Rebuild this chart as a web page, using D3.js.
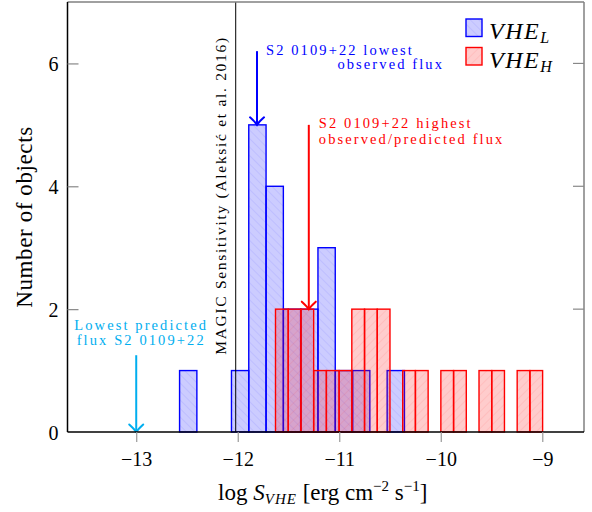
<!DOCTYPE html>
<html>
<head>
<meta charset="utf-8">
<script src="https://cdn.jsdelivr.net/npm/d3@7/dist/d3.min.js"></script>
<style>
  html, body { margin: 0; padding: 0; background: #fff; }
  svg { display: block; }
  text { font-family: "Liberation Serif", "Times New Roman", serif; }
</style>
</head>
<body>
<svg id="chart" width="592" height="512"></svg>
<script>
// Histogram of log VHE flux for the two source samples
const xTicks = [-13, -12, -11, -10, -9];
const yTicks = [0, 2, 4, 6];

// VHE_L sample: equal-width bins starting at blueStart
const blueStart = -12.573;
const blueWidth = 0.1704;
const blueCounts = [1, 0, 0, 1, 5, 4, 2, 2, 3, 1, 1, 0, 1];

// VHE_H sample
const redStart = -11.628;
const redWidth = 0.1253;
const redCounts = [2, 2, 2, 1, 1, 1, 2, 2, 2, 0, 1, 1, 0, 1, 1, 0, 1, 1, 0, 1, 1];

// MAGIC sensitivity limit
const magicLimit = -12.02;

// Arrow markers: x position, arrow start (count units), arrow tip (count units)
const markerX = [-11.81, -11.30, -13.0];
const markerFrom = [6.2, 5.0, 1.25];
const markerTo = [5, 2, 0];
const markerColor = ["#0000ff", "#ff0000", "#00aeef"];

const svg = d3.select("#chart");
const margin = { left: 67.5, right: 584, top: 2, bottom: 432 };

const x = d3.scaleLinear().domain([-13.677, -8.589]).range([margin.left, margin.right]);
const y = d3.scaleLinear().domain([0, 7]).range([margin.bottom, margin.top]);

// hatch patterns
const defs = svg.append("defs");
function hatch(id, color, angle) {
  const p = defs.append("pattern")
    .attr("id", id)
    .attr("patternUnits", "userSpaceOnUse")
    .attr("width", 6).attr("height", 6)
    .attr("patternTransform", `rotate(${angle})`);
  p.append("rect").attr("width", 6).attr("height", 6).attr("fill", color).attr("fill-opacity", 0.2);
  p.append("line").attr("x1", 0).attr("y1", 0).attr("x2", 0).attr("y2", 6)
    .attr("stroke", color).attr("stroke-opacity", 0.14).attr("stroke-width", 1);
}
hatch("hatchBlue", "#0000ff", -45);
hatch("hatchRed", "#ff0000", 45);

function bins(start, width, counts) {
  return counts.map((c, i) => ({ x0: start + i * width, x1: start + (i + 1) * width, n: c }))
    .filter(d => d.n > 0);
}

function drawBars(data, fill, stroke) {
  svg.append("g").selectAll("rect").data(data).join("rect")
    .attr("x", d => x(d.x0))
    .attr("y", d => y(d.n))
    .attr("width", d => x(d.x1) - x(d.x0))
    .attr("height", d => y(0) - y(d.n))
    .attr("fill", fill)
    .attr("stroke", stroke)
    .attr("stroke-width", 1.4);
}
drawBars(bins(blueStart, blueWidth, blueCounts), "url(#hatchBlue)", "#0000ff");
drawBars(bins(redStart, redWidth, redCounts), "url(#hatchRed)", "#ff0000");

// MAGIC sensitivity line and label
svg.append("line")
  .attr("x1", x(magicLimit)).attr("x2", x(magicLimit))
  .attr("y1", y(0)).attr("y2", y(7))
  .attr("stroke", "#000").attr("stroke-width", 1);
svg.append("text")
  .attr("transform", `translate(${x(magicLimit) - 10},195.5) rotate(-90)`)
  .attr("text-anchor", "middle")
  .attr("font-size", 15.5)
  .attr("letter-spacing", 1.7)
  .attr("fill", "#000")
  .text("MAGIC Sensitivity (Aleksić et al. 2016)");

// arrows
markerX.forEach((mx, i) => {
  const g = svg.append("g").attr("stroke", markerColor[i]).attr("stroke-width", 2).attr("fill", "none");
  const px = x(mx), y0 = y(markerFrom[i]), y1 = y(markerTo[i]);
  g.append("line").attr("x1", px).attr("x2", px).attr("y1", y0).attr("y2", y1 - 0.5);
  g.append("path").attr("d", `M${px - 7},${y1 - 7.5} Q${px - 2},${y1 - 3} ${px},${y1} Q${px + 2},${y1 - 3} ${px + 7},${y1 - 7.5}`)
    .attr("stroke-linecap", "round");
});

// annotation texts
function note(lines, color) {
  lines.forEach(l => {
    svg.append("text")
      .attr("x", l.x).attr("y", l.y)
      .attr("text-anchor", l.anchor)
      .attr("font-size", 14.5)
      .attr("letter-spacing", 2.1)
      .attr("fill", color)
      .text(l.t);
  });
}
const bx = x(markerX[0]), rx = x(markerX[1]), cx = x(markerX[2]);
note([
  { t: "S2 0109+22 lowest", x: bx + 9, y: 55, anchor: "start" },
  { t: "observed flux", x: bx + 187, y: 69, anchor: "end" }
], "#0000ff");
note([
  { t: "S2 0109+22 highest", x: rx + 10, y: 128.3, anchor: "start" },
  { t: "observed/predicted flux", x: rx + 10, y: 144.3, anchor: "start" }
], "#ff0000");
note([
  { t: "Lowest predicted", x: cx + 5, y: 330, anchor: "middle" },
  { t: "flux S2 0109+22", x: cx + 5, y: 345, anchor: "middle" }
], "#00aeef");

// frame: top/right grey, left/bottom black
svg.append("line").attr("x1", margin.left).attr("x2", margin.right).attr("y1", margin.top).attr("y2", margin.top)
  .attr("stroke", "#808080").attr("stroke-width", 1.5);
svg.append("line").attr("x1", margin.right).attr("x2", margin.right).attr("y1", margin.top).attr("y2", margin.bottom)
  .attr("stroke", "#808080").attr("stroke-width", 1.5);

// x axis
const xAxis = d3.axisBottom(x).tickValues(xTicks).tickSize(10).tickPadding(12)
  .tickFormat(d => "\u2212" + Math.abs(d));
const gx = svg.append("g").attr("transform", `translate(0,${margin.bottom})`).call(xAxis);
gx.select(".domain").attr("stroke", "#000").attr("stroke-width", 1.5)
  .attr("d", `M${margin.left},0H${margin.right}`);
gx.selectAll(".tick line").attr("stroke", "#999").attr("stroke-width", 1.2);
gx.selectAll(".tick text").attr("font-size", 20).attr("font-family", "Liberation Serif").attr("fill", "#000")
  .attr("dy", "0.6em");

// y axis (ticks inside)
const yAxis = d3.axisLeft(y).tickValues(yTicks).tickSize(-11).tickPadding(20).tickFormat(d3.format("d"));
const gy = svg.append("g").attr("transform", `translate(${margin.left},0)`).call(yAxis);
gy.select(".domain").attr("stroke", "#000").attr("stroke-width", 1.5)
  .attr("d", `M0,${margin.top}V${margin.bottom}`);
gy.selectAll(".tick line").attr("stroke", "#888").attr("stroke-width", 1.2);
gy.selectAll(".tick text").attr("font-size", 20).attr("font-family", "Liberation Serif").attr("fill", "#000")
  .attr("x", -9).attr("dy", "0.35em");
gy.selectAll(".tick").filter(d => d === 0).select("line").remove();

// right-side inner ticks
svg.append("g").selectAll("line").data(yTicks.filter(d => d > 0)).join("line")
  .attr("x1", margin.right - 11).attr("x2", margin.right)
  .attr("y1", d => y(d)).attr("y2", d => y(d))
  .attr("stroke", "#888").attr("stroke-width", 1.2);

// axis labels
svg.append("text")
  .attr("transform", `translate(31.5,${(margin.top + margin.bottom) / 2}) rotate(-90)`)
  .attr("text-anchor", "middle")
  .attr("font-size", 23)
  .attr("letter-spacing", 0.6)
  .text("Number of objects");

const xl = svg.append("text")
  .attr("x", (margin.left + margin.right) / 2 - 3).attr("y", 500)
  .attr("text-anchor", "middle")
  .attr("font-size", 23);
xl.append("tspan").text("log ");
xl.append("tspan").attr("font-style", "italic").text("S");
xl.append("tspan").attr("font-style", "italic").attr("font-size", 15).attr("letter-spacing", 1).attr("dy", 4).text("VHE");
xl.append("tspan").attr("dy", -4).text(" [erg cm");
xl.append("tspan").attr("font-size", 15).attr("dy", -9).text("\u22122");
xl.append("tspan").attr("dy", 9).text(" s");
xl.append("tspan").attr("font-size", 15).attr("dy", -9).text("\u22121");
xl.append("tspan").attr("dy", 9).text("]");

// legend
const legend = [
  { fill: "url(#hatchBlue)", stroke: "#0000ff", sub: "L" },
  { fill: "url(#hatchRed)", stroke: "#ff0000", sub: "H" }
];
legend.forEach((d, i) => {
  const ly = 19 + i * 28.5;
  svg.append("rect").attr("x", 466).attr("y", ly).attr("width", 16).attr("height", 17.5)
    .attr("fill", d.fill).attr("stroke", d.stroke).attr("stroke-width", 1.4);
  const t = svg.append("text").attr("x", 489).attr("y", ly + 20).attr("font-size", 24).attr("font-style", "italic");
  t.append("tspan").attr("letter-spacing", 1.5).text("VHE");
  t.append("tspan").attr("font-size", 16).attr("dy", 4).text(d.sub);
});
</script>
</body>
</html>
